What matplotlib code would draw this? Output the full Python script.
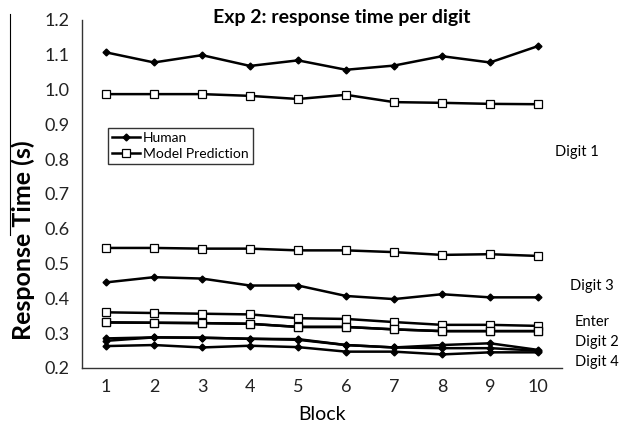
import matplotlib
matplotlib.use("Agg")
import matplotlib.pyplot as plt
from matplotlib.lines import Line2D

plt.rcParams["font.family"] = ["Lato", "DejaVu Sans"]

blocks = [1, 2, 3, 4, 5, 6, 7, 8, 9, 10]
digits = ["Digit 1", "Digit 3", "Enter", "Digit 2", "Digit 4"]

human_digit1 = [1.107, 1.078, 1.099, 1.068, 1.084, 1.057, 1.069, 1.096, 1.078, 1.125]
human_digit3 = [0.446, 0.461, 0.457, 0.437, 0.437, 0.407, 0.398, 0.412, 0.403, 0.403]
human_enter = [0.285, 0.288, 0.287, 0.284, 0.283, 0.266, 0.259, 0.257, 0.257, 0.250]
human_digit2 = [0.278, 0.288, 0.287, 0.284, 0.281, 0.266, 0.259, 0.266, 0.271, 0.252]
human_digit4 = [0.263, 0.266, 0.259, 0.264, 0.260, 0.247, 0.247, 0.239, 0.245, 0.245]

model_digit1 = [0.987, 0.987, 0.987, 0.982, 0.973, 0.985, 0.964, 0.962, 0.959, 0.958]
model_digit3 = [0.545, 0.545, 0.543, 0.543, 0.538, 0.538, 0.533, 0.525, 0.527, 0.522]
model_enter = [0.360, 0.358, 0.356, 0.354, 0.343, 0.341, 0.332, 0.324, 0.324, 0.321]
model_digit2 = [0.331, 0.330, 0.329, 0.327, 0.318, 0.318, 0.311, 0.306, 0.306, 0.306]
model_digit4 = [0.331, 0.330, 0.329, 0.327, 0.318, 0.318, 0.311, 0.306, 0.306, 0.306]

human = [human_digit1, human_digit3, human_enter, human_digit2, human_digit4]
model = [model_digit1, model_digit3, model_enter, model_digit2, model_digit4]

# label positions in pixels (x, y) on the right side
label_px = [(555, 152), (570, 286), (575, 322), (575, 342), (575, 362)]

W, H = 619, 425
fig = plt.figure(figsize=(W / 100, H / 100), dpi=100)
ax = fig.add_axes([82 / W, 1 - 368 / H, (562 - 82) / W, (368 - 20) / H])

for i in range(len(digits)):
    ax.plot(blocks, model[i], color="black", lw=1.8, marker="s", ms=5.2,
            mfc="white", mec="black", mew=0.9,
            label="Model Prediction" if i == 0 else None, zorder=2)
for i in range(len(digits)):
    ax.plot(blocks, human[i], color="black", lw=1.8, marker="D", ms=3.5,
            mfc="black", mec="black",
            label="Human" if i == 0 else None, zorder=3)

ax.set_xlim(0.5, 10.5)
ax.set_ylim(0.2, 1.2)
ax.set_xticks(blocks)
ax.set_yticks([0.2, 0.3, 0.4, 0.5, 0.6, 0.7, 0.8, 0.9, 1.0, 1.1, 1.2])
ax.set_yticklabels([f"{v:.1f}" for v in ax.get_yticks()])
ax.tick_params(length=0, labelsize=13, colors="#222222", pad=9)
ax.tick_params(axis="x", pad=8)
for s in ["top", "right"]:
    ax.spines[s].set_visible(False)
for s in ["left", "bottom"]:
    ax.spines[s].set_color("#333333")
    ax.spines[s].set_linewidth(1.0)

ax.set_xlabel("Block", fontsize=14, labelpad=8)
fig.text(23 / W, 1 - 240 / H, "Response Time (s)", rotation=90, fontsize=18,
         fontweight="bold", ha="center", va="center")
fig.text(342 / W, 1 - 18 / H, "Exp 2: response time per digit", fontsize=14,
         fontweight="bold", ha="center", va="center")

handles, labels = ax.get_legend_handles_labels()
order = [labels.index("Human"), labels.index("Model Prediction")]
leg = ax.legend([handles[j] for j in order], [labels[j] for j in order],
                loc="upper left", bbox_to_anchor=((108 - 82) / 480, (368 - 128) / 348),
                fontsize=10, frameon=True, fancybox=False, handlelength=2.0,
                handletextpad=0.2, borderpad=0.3, labelspacing=0.3,
                borderaxespad=0)
leg.get_frame().set_edgecolor("black")
leg.get_frame().set_linewidth(1.0)

for name, (px, py) in zip(digits, label_px):
    fig.text(px / W, 1 - py / H, name, fontsize=10.5, ha="left", va="center")

fig.add_artist(Line2D([10 / W, 10 / W], [1 - 14 / H, 1 - 235 / H],
                      color="black", lw=0.8, transform=fig.transFigure))

fig.savefig("out.png", dpi=100)
